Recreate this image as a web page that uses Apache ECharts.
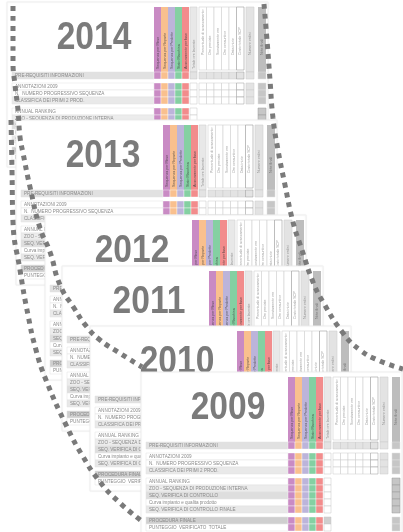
<!DOCTYPE html>
<html>
<head>
<meta charset="utf-8">
<script src="https://cdn.jsdelivr.net/npm/echarts@6/dist/echarts.min.js"></script>
<style>
  html, body { margin: 0; padding: 0; background: #fff; }
  #main { width: 403px; height: 532px; }
</style>
</head>
<body>
<div id="main"></div>
<script>
// years shown on each stacked sheet, oldest sheet drawn last (on top)
var years = ['2014', '2013', '2012', '2011', '2010', '2009'];
// top-left corner of each sheet's header
var sheetLeft = [10, 19, 48, 65, 93, 144];
var sheetTop = [7, 125, 220, 271, 331, 377];

// the three dotted guide curves
var innerArc = [[13, 6], [13, 35], [13, 62], [15, 85], [18, 110], [20, 137], [23, 153], [30, 187],
    [40, 228], [50, 252], [60, 285], [74, 308], [87, 327], [100, 340], [118, 352], [142, 367]];
var outerArc = [[11, 120], [12, 170], [13, 222], [20, 270], [28, 315], [36, 350], [46, 380],
    [67, 427], [82, 455], [100, 482], [120, 503], [143, 522]];
var rightArc = [[264, 4], [267, 40], [270, 80], [273, 118], [278, 150], [285, 185], [293, 222],
    [302, 250], [313, 282], [323, 302], [343, 333], [360, 350], [380, 361], [403, 369]];

var colourHeaders = ['Sequenza per Mese', 'Sequenza per Reparto', 'Sequenza per Prodotto',
    'Stato Macchina', 'Avanzamento per fase'];
var otherHeaders = ['Totale ore lavorate', 'Percentuale di avanzamento', 'Ore previste',
    'Scostamento ore', 'Ore consuntivo', 'Data inizio', 'Costo totale SCP', 'Numero ordini', 'Note finali'];
var bandLabel = 'PRE-REQUISITI INFORMAZIONI';
var groupOneLabels = ['ANNOTAZIONI 2009', 'N.  NUMERO PROGRESSIVO SEQUENZA', 'CLASSIFICA DEI PRIMI 2 PROD.'];
var groupTwoLabels = ['ANNUAL RANKING', 'ZOO - SEQUENZA DI PRODUZIONE INTERNA', 'SEQ. VERIFICA DI CONTROLLO',
    'Curva impianto e qualita prodotto', 'SEQ. VERIFICA DI CONTROLLO FINALE'];
var groupThreeLabels = ['PROCEDURA FINALE', 'PUNTEGGIO  VERIFICATO  TOTALE'];

var columnColours = ['#c98bc4', '#f9c08e', '#bcb4da', '#84d0a2', '#f28c8c'];

function renderSheet(params, api) {
    var p = api.coord([api.value(0), api.value(1)]);
    var L = p[0], T = p[1];
    var cx = L + 144;
    var year = years[api.value(2)];
    var ch = [];
    var tiny = { fontSize: 3.6, fontFamily: 'Liberation Sans', fill: 'rgba(50,50,50,0.75)' };

    // sheet background
    ch.push({ type: 'rect', shape: { x: L - 3, y: T - 5, width: cx + 117 - L, height: 165 },
        style: { fill: '#fff', stroke: '#f0f0f0', lineWidth: 1, shadowBlur: 2, shadowColor: 'rgba(0,0,0,0.05)' } });

    // year
    ch.push({ type: 'text', x: L + 84, y: T + 31, scaleX: 0.86,
        style: { text: year, x: 0, y: 0, align: 'center', verticalAlign: 'middle',
            fontFamily: 'Liberation Sans', fontWeight: 'bold', fontSize: 39, fill: '#7b7b7b' } });

    // header: coloured columns
    for (var i = 0; i < 5; i++) {
        ch.push({ type: 'rect', shape: { x: cx + 7 * i, y: T, width: 7, height: 65 }, style: { fill: columnColours[i] } });
        ch.push({ type: 'text', x: cx + 7 * i + 3.5, y: T + 62, rotation: Math.PI / 2,
            style: Object.assign({ text: colourHeaders[i], align: 'left', verticalAlign: 'middle' }, tiny) });
    }
    // header: grey cell column
    ch.push({ type: 'rect', shape: { x: cx + 36, y: T, width: 7, height: 65 }, style: { fill: '#e8e8e8', stroke: '#d0d0d0', lineWidth: 0.6 } });
    ch.push({ type: 'text', x: cx + 39.5, y: T + 62, rotation: Math.PI / 2,
        style: Object.assign({ text: otherHeaders[0], align: 'left', verticalAlign: 'middle' }, tiny, { fill: 'rgba(90,90,90,0.6)' }) });
    // header: six white columns
    for (var j = 0; j < 6; j++) {
        ch.push({ type: 'rect', shape: { x: cx + 45 + 7.5 * j, y: T, width: 7.5, height: 63 },
            style: { fill: '#fff', stroke: j === 5 ? '#9a9a9a' : '#d2d2d2', lineWidth: 0.6 } });
        ch.push({ type: 'text', x: cx + 48.5 + 7.5 * j, y: T + 48, rotation: Math.PI / 2,
            style: Object.assign({ text: otherHeaders[j + 1], align: 'left', verticalAlign: 'middle' }, tiny, { fill: 'rgba(90,90,90,0.6)' }) });
    }
    // header: light grey and dark grey columns
    ch.push({ type: 'rect', shape: { x: cx + 92, y: T, width: 8, height: 65 }, style: { fill: '#e3e3e3', stroke: '#d0d0d0', lineWidth: 0.6 } });
    ch.push({ type: 'text', x: cx + 96, y: T + 48, rotation: Math.PI / 2,
        style: Object.assign({ text: otherHeaders[7], align: 'left', verticalAlign: 'middle' }, tiny, { fill: 'rgba(90,90,90,0.6)' }) });
    ch.push({ type: 'rect', shape: { x: cx + 104, y: T, width: 8, height: 65 }, style: { fill: '#bdbdbd' } });
    ch.push({ type: 'text', x: cx + 108, y: T + 48, rotation: Math.PI / 2,
        style: Object.assign({ text: otherHeaders[8], align: 'left', verticalAlign: 'middle' }, tiny, { fill: 'rgba(70,70,70,0.6)' }) });

    // rows: [offset, label, label-area fill, kind]
    var rows = [[65, bandLabel, '#e1e1e1', 'band']];
    var g1Fill = ['#fff', '#fff', '#e9e9e9'];
    for (var a = 0; a < 3; a++) rows.push([76 + 7 * a, groupOneLabels[a], g1Fill[a], 'g1']);
    var g2Fill = ['#fff', '#ececec', '#dedede', '#fff', '#e8e8e8'];
    for (var b = 0; b < 5; b++) rows.push([101 + 7 * b, groupTwoLabels[b], g2Fill[b], 'g2']);
    var g3Fill = ['#cfcfcf', '#fff'];
    for (var c = 0; c < 2; c++) rows.push([140 + 7 * c, groupThreeLabels[c], g3Fill[c], 'g3' + c]);

    rows.forEach(function (r) {
        var y = T + r[0], k = r[3];
        ch.push({ type: 'rect', shape: { x: L + 2, y: y, width: cx - L - 2, height: 7 },
            style: { fill: r[2], stroke: '#e0e0e0', lineWidth: 0.5 } });
        ch.push({ type: 'text', x: L + 5, y: y + 3.5,
            style: { text: r[1], fontSize: 4.6, fontFamily: 'Liberation Sans', fill: '#8a8a8a', verticalAlign: 'middle' } });
        for (var i = 0; i < 5; i++) {
            ch.push({ type: 'rect', shape: { x: cx + 7 * i, y: y, width: 7, height: 7 },
                style: { fill: columnColours[i], stroke: '#fff', lineWidth: 0.4 } });
        }
        var cellFill = k === 'band' ? '#e3e3e3' : (k === 'g30' ? '#cfcfcf' : '#fff');
        ch.push({ type: 'rect', shape: { x: cx + 36, y: y, width: 7, height: 7 },
            style: { fill: cellFill, stroke: '#c4c4c4', lineWidth: 0.5 } });
        if (k === 'band' || k === 'g1') {
            for (var j = 0; j < 6; j++) {
                ch.push({ type: 'rect', shape: { x: cx + 45 + 7.5 * j, y: y, width: 7.5, height: 7 },
                    style: { fill: k === 'band' ? '#e3e3e3' : '#fff', stroke: j === 5 ? '#9a9a9a' : '#c8c8c8', lineWidth: 0.5 } });
            }
            ch.push({ type: 'rect', shape: { x: cx + 92, y: y, width: 8, height: 7 },
                style: { fill: '#e3e3e3', stroke: '#c8c8c8', lineWidth: 0.5 } });
        }
        ch.push({ type: 'rect', shape: { x: cx + 104, y: y, width: 8, height: 7 },
            style: { fill: '#c6c6c6', stroke: k === 'g2' ? '#999' : '#e0e0e0', lineWidth: 0.5 } });
    });

    return { type: 'group', children: ch };
}

document.addEventListener('DOMContentLoaded', function () {
    var chartDom = document.getElementById('main');
    var myChart = echarts.init(chartDom, null, { renderer: 'canvas' });
    var option;

    var sheets = years.map(function (y, i) { return [sheetLeft[i], sheetTop[i], i]; });
    var dotted = { color: '#7a7a7a', width: 5, type: [5, 5], cap: 'butt' };

    option = {
        backgroundColor: '#fff',
        animation: false,
        grid: { left: 0, right: 0, top: 0, bottom: 0 },
        xAxis: { type: 'value', min: 0, max: 403, show: false },
        yAxis: { type: 'value', min: 0, max: 532, inverse: true, show: false },
        series: [
            {
                type: 'custom',
                name: 'sheets',
                renderItem: renderSheet,
                clip: false,
                data: sheets,
                z: 1
            },
            { type: 'line', name: 'inner', data: innerArc, smooth: true, symbol: 'none', lineStyle: dotted, z: 5 },
            { type: 'line', name: 'outer', data: outerArc, smooth: true, symbol: 'none', lineStyle: dotted, z: 5 },
            { type: 'line', name: 'right', data: rightArc, smooth: true, symbol: 'none', lineStyle: dotted, z: 5 }
        ]
    };

    option && myChart.setOption(option);
});
</script>
</body>
</html>
